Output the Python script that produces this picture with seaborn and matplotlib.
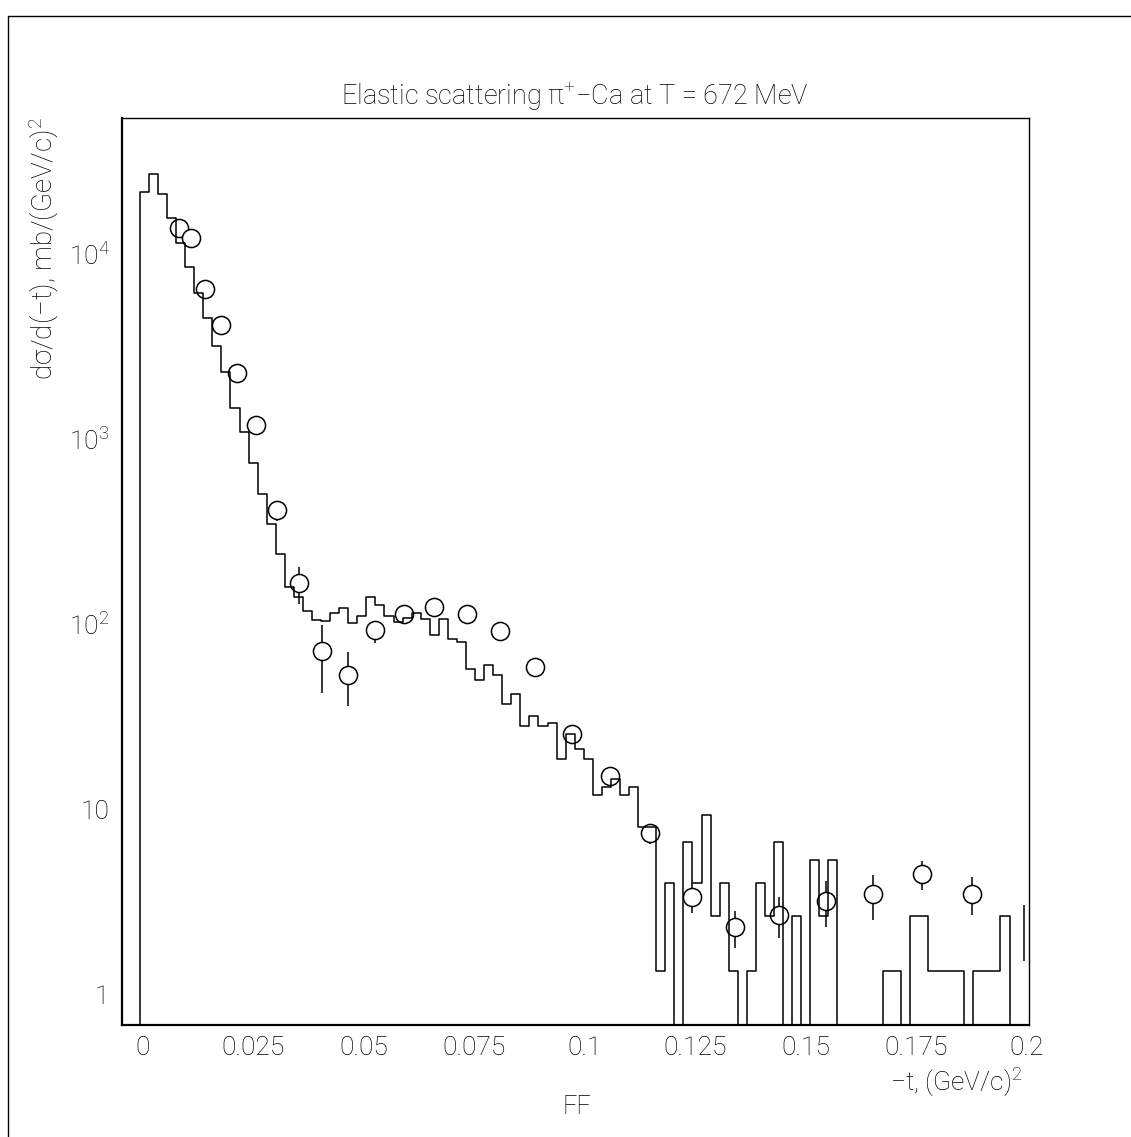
import matplotlib

matplotlib.use("Agg")
import matplotlib.pyplot as plt
import numpy as np
import seaborn as sns
from matplotlib.lines import Line2D
from matplotlib.ticker import (FixedFormatter, FixedLocator, FuncFormatter,
                               LogLocator, MultipleLocator, NullFormatter)

OUTPUT_PATH = "out.png"

# model histogram (dsigma/dt per bin), 98 bins of equal width from BIN_START
BIN_START = -0.0006
BIN_WIDTH = 0.00205
HIST_VALUES = [
    21500, 27000, 21000, 15600, 11400, 8470, 6130, 4490, 3190, 2310,
    1470, 1087, 739, 502, 347, 238, 159, 140, 118, 105,
    104, 115, 122, 101, 111, 140, 126, 110, 102, 108,
    114, 107, 87, 106, 83, 80, 57, 50, 60, 53,
    37, 42, 28, 32, 28, 29, 18.6, 25.3, 21.1, 18.6,
    11.9, 13.2, 14.6, 11.9, 13.2, 8.0, 8.0, 1.33, 3.98, 0,
    6.63, 3.98, 9.28, 2.65, 3.98, 1.33, 0, 1.33, 3.98, 2.65,
    6.63, 0, 2.65, 0, 5.3, 2.65, 5.3, 0, 0, 0,
    0, 0, 1.33, 1.33, 0, 2.65, 2.65, 1.33, 1.33, 1.33,
    1.33, 0, 1.33, 1.33, 1.33, 2.65, 0, 0,
]

# experimental points
DATA_T = [0.00826, 0.01104, 0.01414, 0.01769, 0.02145, 0.02575, 0.0305,
          0.03548, 0.0406, 0.04656, 0.05268, 0.0592, 0.066, 0.07335,
          0.08095, 0.08887, 0.09724, 0.1058, 0.1148, 0.1243, 0.134,
          0.1441, 0.1546, 0.1653, 0.1764, 0.1878]
DATA_XS = [13900, 12250, 6490, 4130, 2280, 1186, 413,
           166, 71.5, 53, 92.4, 112.8, 124, 112.8,
           91.6, 58.3, 25.3, 15.1, 7.39, 3.36, 2.29,
           2.68, 3.19, 3.46, 4.44, 3.47]
DATA_LOW = [13400, 11800, 6250, 3980, 2200, 1140, 362,
            128, 42.5, 36, 79.4, 108, 119, 108,
            88, 56, 24.2, 14.4, 6.46, 2.73, 1.78,
            2.01, 2.29, 2.51, 3.65, 2.67]
DATA_HIGH = [14400, 12700, 6730, 4280, 2360, 1230, 459,
             204, 98.2, 71, 103.6, 117.5, 129, 117.5,
             95.3, 60.6, 26.4, 15.8, 8.14, 3.97, 2.81,
             3.36, 4.08, 4.39, 5.23, 4.28]

# lone error bar at the right edge (no marker drawn)
EDGE_T = [0.1995]
EDGE_LOW = [1.5]
EDGE_HIGH = [3.03]

Y_TICKS = [1, 10, 100, 1000, 10000]
Y_TICK_LABELS = ["1", "10", "10$^{2}$", "10$^{3}$", "10$^{4}$"]


def main() -> None:
    sns.set_style("white")
    plt.rcParams["font.family"] = ["Roboto", "DejaVu Sans"]
    plt.rcParams["font.weight"] = "light"
    plt.rcParams["mathtext.default"] = "regular"
    plt.rcParams["text.color"] = "black"
    plt.rcParams["xtick.color"] = "black"
    plt.rcParams["ytick.color"] = "black"

    fig = plt.figure(figsize=(11.31, 11.37), dpi=100)
    ax = fig.add_axes([0.1079, 0.0985, 0.8015, 0.7977])

    edges = BIN_START + BIN_WIDTH * np.arange(len(HIST_VALUES) + 1)
    step_x = np.concatenate([[edges[0]], edges])
    step_y = np.concatenate([[0.0], HIST_VALUES, [0.0]])

    ax.vlines(DATA_T, DATA_LOW, DATA_HIGH, color="black", lw=1.1, zorder=2)
    ax.vlines(EDGE_T, EDGE_LOW, EDGE_HIGH, color="black", lw=1.1, zorder=2)
    sns.scatterplot(x=DATA_T, y=DATA_XS, marker="o", s=170, facecolor="white",
                    edgecolor="black", linewidth=1.1, zorder=3, ax=ax)
    sns.lineplot(x=step_x, y=step_y, estimator=None, sort=False,
                 drawstyle="steps-post", color="black", lw=1.1, zorder=4, ax=ax)

    ax.set_yscale("log")
    ax.set_xlim(-0.00464, 0.2005)
    ax.set_ylim(0.68, 54300)

    ax.xaxis.set_major_locator(MultipleLocator(0.025))
    ax.xaxis.set_minor_locator(MultipleLocator(0.005))
    ax.xaxis.set_major_formatter(FuncFormatter(lambda v, _: f"{round(v, 4):g}"))
    ax.yaxis.set_major_locator(FixedLocator(Y_TICKS))
    ax.yaxis.set_major_formatter(FixedFormatter(Y_TICK_LABELS))
    ax.yaxis.set_minor_locator(LogLocator(base=10, subs=np.arange(2, 10)))
    ax.yaxis.set_minor_formatter(NullFormatter())

    ax.tick_params(which="both", direction="in", top=False, right=False,
                   width=1, color="black", labelcolor="black", labelsize=19)
    ax.tick_params(which="major", length=12.5, pad=8)
    ax.tick_params(which="minor", length=6)
    ax.tick_params(axis="y", pad=9)

    for name, spine in ax.spines.items():
        spine.set_color("black")
        spine.set_linewidth(1.6 if name in ("left", "bottom") else 1.0)

    ax.set_xlabel("")
    ax.set_ylabel("")
    fig.text(575 / 1131, 1 - 97 / 1137,
             "Elastic scattering π$^{+}$−Ca at T = 672 MeV",
             ha="center", va="center", fontsize=19.5)
    fig.text(44 / 1131, 1 - 249 / 1137, "dσ/d(−t), mb/(GeV/c)$^{2}$",
             rotation=90, ha="center", va="center", fontsize=20)
    fig.text(1022 / 1131, 1 - 1082 / 1137, "−t, (GeV/c)$^{2}$",
             ha="right", va="center", fontsize=19)
    fig.text(577 / 1131, 1 - 1107 / 1137, "FF",
             ha="center", va="center", fontsize=18)

    # outer page frame
    fx, fy = 8 / 1131, 1 - 16 / 1137
    fig.add_artist(Line2D([fx, fx], [0, fy], transform=fig.transFigure,
                          color="black", lw=1))
    fig.add_artist(Line2D([fx, 1], [fy, fy], transform=fig.transFigure,
                          color="black", lw=1))

    fig.savefig(OUTPUT_PATH, dpi=100)


if __name__ == "__main__":
    main()
